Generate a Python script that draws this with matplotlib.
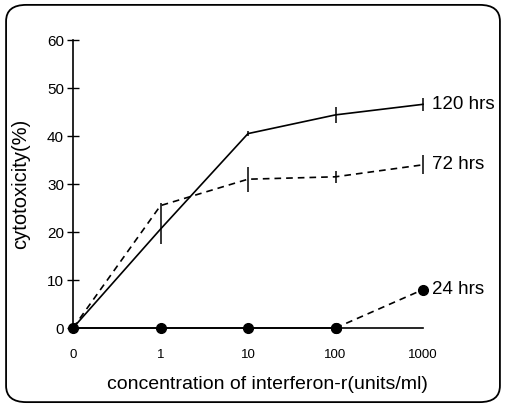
import matplotlib.pyplot as plt
from matplotlib.patches import FancyBboxPatch

concentrations = ['0', '1', '10', '100', '1000']
hrs120 = [0, 20.6, 40.5, 44.4, 46.6]
hrs120_err_lo = [0, 3.0, 0.6, 1.7, 1.4]
hrs120_err_hi = [0, 5.4, 0.6, 1.7, 1.4]
hrs72 = [0, 25.5, 31.0, 31.5, 34.0]
hrs72_err = [0, 0, 2.6, 1.2, 2.0]
hrs24 = [0, 0, 0, 0, 8]
yticks = [0, 10, 20, 30, 40, 50, 60]

plt.rcParams['font.family'] = ['Liberation Sans', 'DejaVu Sans']

fig = plt.figure(figsize=(5.06, 4.07), dpi=100)
ax = fig.add_axes([73 / 506, 79 / 407, 350 / 506, 288 / 407])

# rounded frame round the whole picture
frame = FancyBboxPatch((0.012, 0.012), 0.976, 0.976, boxstyle='round,pad=0,rounding_size=0.04',
                       transform=fig.transFigure, fill=False, lw=1.3, ec='black')
fig.patches.append(frame)

x = list(range(len(concentrations)))

ax.errorbar(x, hrs120, yerr=[hrs120_err_lo, hrs120_err_hi], color='black', lw=1.2,
            elinewidth=1.1, capsize=0, clip_on=False)
ax.errorbar(x, hrs72, yerr=hrs72_err, color='black', lw=1.2, ls=(0, (4, 3)),
            elinewidth=1.1, capsize=0, clip_on=False)
ax.plot(x[:4], hrs24[:4], color='black', lw=1.2, marker='o', markersize=7, clip_on=False, zorder=5)
ax.plot(x[3:], hrs24[3:], color='black', lw=1.2, ls=(0, (4, 3)), marker='o', markersize=7,
        clip_on=False, zorder=5)

ax.text(x[-1] + 0.1, hrs120[-1], '120 hrs', fontsize=13.5, va='center', ha='left')
ax.text(x[-1] + 0.1, hrs72[-1], '72 hrs', fontsize=13.5, va='center', ha='left')
ax.text(x[-1] + 0.1, hrs24[-1], '24 hrs', fontsize=13.5, va='center', ha='left')

ax.set_xlim(0, 4)
ax.set_ylim(0, 60)
ax.set_xticks(x)
ax.set_xticklabels(concentrations, fontsize=9.5)
ax.set_xticks([4], minor=True)
ax.tick_params(axis='x', which='major', length=0, pad=15)
ax.tick_params(axis='x', which='minor', length=9, direction='inout', width=1)
ax.set_yticks(yticks)
ax.set_yticklabels([str(v) for v in yticks], fontsize=11)
ax.tick_params(axis='y', length=9, direction='inout', width=1, pad=2)

for side in ['top', 'right']:
    ax.spines[side].set_visible(False)
ax.spines['left'].set_linewidth(1.2)
ax.spines['bottom'].set_linewidth(1.2)

ax.set_xlabel('concentration of interferon-r(units/ml)', fontsize=14)
ax.xaxis.set_label_coords(0.555, -0.165)
ax.set_ylabel('cytotoxicity(%)', fontsize=14.5, labelpad=12)

fig.savefig('out.png', dpi=100)
